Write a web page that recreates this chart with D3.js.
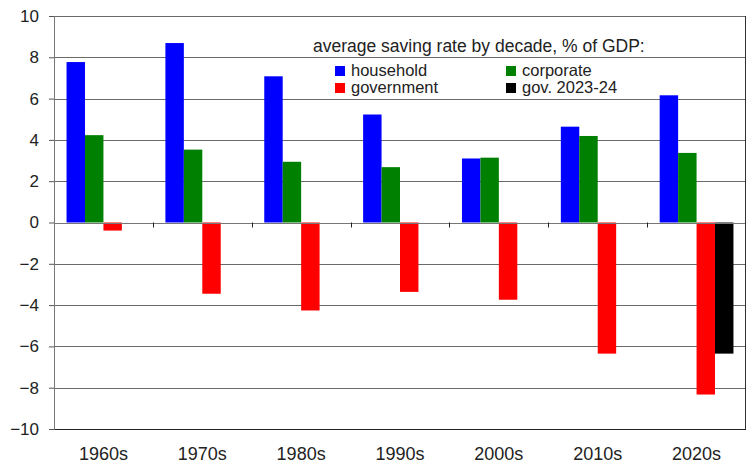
<!DOCTYPE html>
<html>
<head>
<meta charset="utf-8">
<script src="https://cdn.jsdelivr.net/npm/d3@7"></script>
<style>
  body { margin: 0; background: #fff; }
  text { font-family: "Liberation Sans", Arial, sans-serif; fill: #222; }
</style>
</head>
<body>
<div id="chart"></div>
<script>
// decades and average saving rates, % of GDP
const decades = ["1960s", "1970s", "1980s", "1990s", "2000s", "2010s", "2020s"];
const household = [7.77, 8.69, 7.08, 5.23, 3.10, 4.64, 6.16];
const corporate = [4.23, 3.53, 2.94, 2.68, 3.14, 4.19, 3.37];
const government = [-0.39, -3.45, -4.26, -3.36, -3.74, -6.35, -8.33];
const gov2324 = [null, null, null, null, null, null, -6.35];
const yTicks = [10, 8, 6, 4, 2, 0, -2, -4, -6, -8, -10];

const series = [
    { key: "household", label: "household", color: "#0000ff", values: household },
    { key: "corporate", label: "corporate", color: "#008000", values: corporate },
    { key: "government", label: "government", color: "#ff0000", values: government },
    { key: "gov2324", label: "gov. 2023-24", color: "#000000", values: gov2324 }
];

const W = 749, H = 463;
const margin = { top: 16, right: 3, bottom: 34, left: 54 };
const width = W - margin.left - margin.right;
const height = H - margin.top - margin.bottom;

const svg = d3.select("#chart").append("svg")
    .attr("width", W)
    .attr("height", H);

const g = svg.append("g")
    .attr("transform", `translate(${margin.left},${margin.top})`);

const x = d3.scaleBand().domain(decades).range([0, width]);
const x1 = d3.scaleBand()
    .domain(series.map(s => s.key))
    .range([0, x.bandwidth()])
    .paddingOuter(0.68)
    .paddingInner(0);
const y = d3.scaleLinear().domain([-10, 10]).range([height, 0]);

// gridlines
g.append("g")
    .selectAll("line")
    .data(yTicks)
    .enter()
    .append("line")
    .attr("x1", 0)
    .attr("x2", width)
    .attr("y1", d => Math.round(y(d)) + 0.5)
    .attr("y2", d => Math.round(y(d)) + 0.5)
    .attr("stroke", d => (d === -10 ? "#222" : "#6a6a6a"))
    .attr("stroke-width", 1);

// bars
const rows = [];
decades.forEach((dec, i) => {
    series.forEach(s => {
        if (s.values[i] !== null) rows.push({ dec, key: s.key, color: s.color, v: s.values[i] });
    });
});

g.append("g")
    .selectAll("rect")
    .data(rows)
    .enter()
    .append("rect")
    .attr("x", d => x(d.dec) + x1(d.key))
    .attr("width", x1.bandwidth())
    .attr("y", d => y(Math.max(0, d.v)))
    .attr("height", d => Math.abs(y(d.v) - y(0)))
    .attr("fill", d => d.color);

// zero line with category ticks
g.append("line")
    .attr("x1", 0).attr("x2", width)
    .attr("y1", Math.round(y(0)) + 0.5).attr("y2", Math.round(y(0)) + 0.5)
    .attr("stroke", "#777");

g.append("g")
    .selectAll("line")
    .data(decades.slice(1))
    .enter()
    .append("line")
    .attr("x1", d => Math.round(x(d)) + 0.5)
    .attr("x2", d => Math.round(x(d)) + 0.5)
    .attr("y1", y(0))
    .attr("y2", y(0) + 5)
    .attr("stroke", "#222");

// left axis
const yAxis = g.append("g")
    .call(d3.axisLeft(y).tickValues(yTicks).tickSize(5).tickPadding(10).tickFormat(d3.format("d")));
yAxis.select(".domain").attr("stroke", "#777");
yAxis.selectAll(".tick line").attr("stroke", "#555");
yAxis.selectAll("text").style("font-size", "17px").attr("fill", "#222");

// right border
g.append("line")
    .attr("x1", width - 0.5).attr("x2", width - 0.5)
    .attr("y1", 0).attr("y2", height)
    .attr("stroke", "#333");

// category labels
g.append("g")
    .selectAll("text")
    .data(decades)
    .enter()
    .append("text")
    .attr("x", d => x(d) + x.bandwidth() / 2)
    .attr("y", height + 31)
    .attr("text-anchor", "middle")
    .style("font-size", "18px")
    .text(d => d);

// legend
const legend = svg.append("g");
legend.append("text")
    .attr("x", 313)
    .attr("y", 52)
    .style("font-size", "17.5px")
    .text("average saving rate by decade, % of GDP:");

const legendPos = [[335, 66], [506, 66], [335, 83], [506, 83]];
series.forEach((s, i) => {
    const [lx, ly] = legendPos[i];
    legend.append("rect")
        .attr("x", lx).attr("y", ly)
        .attr("width", 10).attr("height", 10)
        .attr("fill", s.color);
    legend.append("text")
        .attr("x", lx + 16)
        .attr("y", ly + 10)
        .style("font-size", "16.5px")
        .text(s.label);
});
</script>
</body>
</html>
